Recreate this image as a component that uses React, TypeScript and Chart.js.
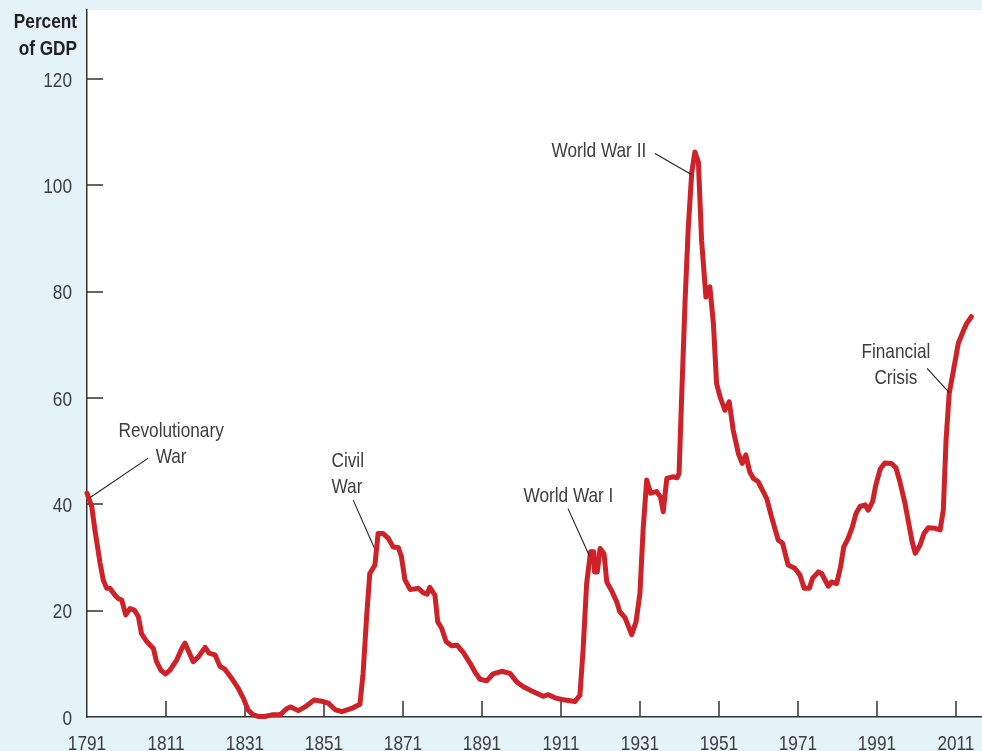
import { useEffect, useRef } from 'react';
import { Chart, registerables } from 'chart.js';

Chart.register(...registerables);

// Federal debt held by the public, percent of GDP
const years = [
  1791, 1792.2, 1793, 1794.3, 1795.1, 1796, 1796.8, 1798.1, 1798.9, 1799.8,
  1800.8, 1801.9, 1803, 1804, 1804.8, 1806.1, 1807.8, 1808.6, 1809.7, 1810.9,
  1812, 1813.7, 1815, 1815.8, 1817.9, 1819.2, 1820.9, 1821.9, 1823.4, 1824.7,
  1825.9, 1827.6, 1829.3, 1830.6, 1831.8, 1833.1, 1834.4, 1836, 1837.8, 1839.9,
  1841.6, 1842.6, 1844.5, 1846.2, 1848.5, 1850.8, 1852.1, 1853.8, 1855.5, 1858,
  1860.1, 1860.9, 1861.8, 1862.6, 1863.9, 1864.7, 1866, 1867.3, 1868.5, 1869.8,
  1870.6, 1871.5, 1872.8, 1874.9, 1876.1, 1877.1, 1877.8, 1879.1, 1879.8, 1880.8,
  1881.9, 1883.3, 1884.7, 1886.3, 1888, 1889.2, 1890.5, 1892.2, 1893.8, 1896,
  1898.1, 1899.8, 1901.5, 1903.6, 1906.5, 1907.8, 1909.5, 1911.2, 1914.5, 1915.8,
  1916.6, 1917.5, 1918.5, 1919.3, 1919.5, 1920.2, 1920.9, 1921.9, 1922.6, 1923.8,
  1925.1, 1925.9, 1927.2, 1928.9, 1930, 1931, 1931.8, 1932.7, 1933.7, 1935.2,
  1936.2, 1936.9, 1937.8, 1939.4, 1940.4, 1940.9, 1941.5, 1942.4, 1943.2, 1944.1,
  1944.9, 1945.8, 1946.6, 1947.7, 1948.7, 1949.6, 1950.4, 1951.3, 1952.5, 1953.6,
  1954.6, 1955.9, 1956.9, 1957.8, 1958.8, 1959.7, 1960.9, 1963.1, 1964.3, 1966,
  1967.1, 1968.5, 1970.2, 1971.5, 1972.6, 1973.9, 1974.7, 1976.2, 1977, 1978.7,
  1979.5, 1980.8, 1981.8, 1982.6, 1983.7, 1984.8, 1985.7, 1986.7, 1988, 1988.8,
  1989.9, 1990.7, 1991.8, 1993, 1994.7, 1995.8, 1996.8, 1998.1, 1999.2, 2000,
  2000.7, 2001.9, 2002.9, 2004, 2005.7, 2007, 2007.8, 2008.5, 2009.3, 2010.4,
  2011.6, 2012.8, 2013.7, 2014.9,
];

const debtPct = [
  42.1, 39.6, 35.2, 29, 25.8, 24.2, 24.2, 22.9, 22.3, 22,
  19.2, 20.4, 20.1, 18.9, 15.7, 14.2, 12.9, 10.4, 8.8, 8.1,
  8.8, 10.7, 12.9, 13.9, 10.4, 11.3, 13.1, 12, 11.7, 9.5,
  9, 7.3, 5.4, 3.5, 1.3, 0.4, 0.1, 0.1, 0.4, 0.4,
  1.6, 1.9, 1.2, 1.9, 3.2, 2.9, 2.6, 1.4, 1, 1.6,
  2.4, 8.2, 18.9, 27, 28.6, 34.5, 34.5, 33.6, 32, 31.9,
  30.2, 25.8, 24, 24.2, 23.4, 23.1, 24.4, 22.9, 17.9, 16.7,
  14.2, 13.4, 13.5, 12.1, 10.1, 8.5, 7.1, 6.8, 8.1, 8.6,
  8.2, 6.6, 5.7, 4.9, 3.9, 4.2, 3.6, 3.3, 2.9, 4.1,
  12.6, 25.1, 31.1, 31.1, 27.3, 27.3, 31.7, 30.7, 25.4, 23.8,
  21.7, 19.8, 18.7, 15.5, 17.9, 23.3, 35.2, 44.6, 42.1, 42.4,
  41.4, 38.6, 44.9, 45.2, 45, 45.8, 59, 77.8, 91.6, 102.3,
  106.3, 104.4, 89.7, 79, 80.9, 74, 62.7, 60.2, 57.7, 59.3,
  54, 49.6, 47.7, 49.3, 46.1, 44.9, 44.3, 41.1, 37.7, 33.3,
  32.7, 28.6, 28, 26.7, 24.2, 24.2, 26.1, 27.3, 27, 24.6,
  25.4, 25.1, 28.3, 32, 33.6, 35.8, 38.3, 39.6, 39.9, 38.9,
  40.5, 43.6, 46.6, 47.8, 47.7, 46.9, 44.3, 40.2, 35.8, 32.7,
  30.8, 32.3, 34.5, 35.6, 35.5, 35.2, 38.9, 52.1, 60.9, 65.3,
  70.3, 72.5, 74, 75.3,
];

const xTickYears = [1791, 1811, 1831, 1851, 1871, 1891, 1911, 1931, 1951, 1971, 1991, 2011];
const yTickValues = [0, 20, 40, 60, 80, 100, 120];
const yAxisTitle = ['Percent', 'of GDP'];

// Annotation labels, anchored in data units (year, percent)
const annotationLabels = [
  { lines: ['Revolutionary', 'War'], year: 1812.3, pct: 52.7, align: 'center', from: [1806.5, 48.7], to: [1791.8, 41.3] },
  { lines: ['Civil', 'War'], year: 1852.9, pct: 47.0, align: 'left', from: [1858.4, 40.8], to: [1863.7, 31.9] },
  { lines: ['World War I'], year: 1901.5, pct: 40.5, align: 'left', from: [1912.8, 39.2], to: [1918.2, 30.3] },
  { lines: ['World War II'], year: 1908.6, pct: 105.4, align: 'left', from: [1934.8, 106.0], to: [1943.9, 102.1] },
  { lines: ['Financial', 'Crisis'], year: 1995.8, pct: 67.6, align: 'center', from: [2003.7, 65.6], to: [2009.3, 61.0] },
];

const FONT = "'Liberation Sans', Arial, sans-serif";
const NARROW = 0.82;
const TEXT = '#3d3d3d';
const AXIS = '#333333';
const BG = '#e4f3f8';
const RED = '#cf2128';

function narrowText(ctx: CanvasRenderingContext2D, text: string, x: number, y: number, align: CanvasTextAlign) {
  ctx.save();
  ctx.translate(x, y);
  ctx.scale(NARROW, 1);
  ctx.textAlign = align;
  ctx.textBaseline = 'alphabetic';
  ctx.fillText(text, 0, 0);
  ctx.restore();
}

const framePlugin = {
  id: 'frame',
  beforeDraw(chart: any) {
    const { ctx, chartArea } = chart;
    ctx.save();
    ctx.fillStyle = BG;
    ctx.fillRect(0, 0, chart.width, chart.height);
    ctx.fillStyle = '#ffffff';
    ctx.fillRect(chartArea.left, chartArea.top, chartArea.right - chartArea.left, chartArea.bottom - chartArea.top);
    ctx.restore();
  },
  beforeDatasetsDraw(chart: any) {
    const { ctx, chartArea, scales } = chart;
    ctx.save();
    ctx.strokeStyle = AXIS;
    ctx.lineWidth = 1.5;
    ctx.beginPath();
    yTickValues.forEach((v) => {
      if (v === 0) return;
      const y = Math.round(scales.y.getPixelForValue(v));
      ctx.moveTo(chartArea.left, y);
      ctx.lineTo(chartArea.left + 16, y);
    });
    xTickYears.forEach((yr, i) => {
      if (i === 0) return;
      const x = Math.round(scales.x.getPixelForValue(yr));
      ctx.moveTo(x, chartArea.bottom);
      ctx.lineTo(x, chartArea.bottom - 16);
    });
    ctx.stroke();
    ctx.restore();
  },
  afterDraw(chart: any) {
    const { ctx, scales, chartArea } = chart;
    ctx.save();
    // tick labels
    ctx.fillStyle = TEXT;
    ctx.font = `21px ${FONT}`;
    yTickValues.forEach((v) => {
      narrowText(ctx, String(v), chartArea.left - 15, scales.y.getPixelForValue(v) + 7.5, 'right');
    });
    xTickYears.forEach((yr) => {
      narrowText(ctx, String(yr), scales.x.getPixelForValue(yr), chartArea.bottom + 33, 'center');
    });
    // axis title
    ctx.fillStyle = '#231f20';
    ctx.font = `bold 21px ${FONT}`;
    narrowText(ctx, yAxisTitle[0], 77, 28, 'right');
    narrowText(ctx, yAxisTitle[1], 77, 55, 'right');
    // annotations
    ctx.font = `21px ${FONT}`;
    ctx.fillStyle = TEXT;
    ctx.strokeStyle = '#222222';
    ctx.lineWidth = 1.1;
    annotationLabels.forEach((a) => {
      const x = scales.x.getPixelForValue(a.year);
      const y = scales.y.getPixelForValue(a.pct);
      a.lines.forEach((line, i) => narrowText(ctx, line, x, y + i * 26, a.align as CanvasTextAlign));
      ctx.beginPath();
      ctx.moveTo(scales.x.getPixelForValue(a.from[0]), scales.y.getPixelForValue(a.from[1]));
      ctx.lineTo(scales.x.getPixelForValue(a.to[0]), scales.y.getPixelForValue(a.to[1]));
      ctx.stroke();
    });
    ctx.restore();
  },
};

export default function App() {
  const ref = useRef<HTMLCanvasElement>(null);
  useEffect(() => {
    document.body.style.margin = '0';
    const chart = new Chart(ref.current as HTMLCanvasElement, {
      type: 'line',
      data: {
        datasets: [
          {
            data: years.map((yr, i) => ({ x: yr, y: debtPct[i] })),
            borderColor: RED,
            borderWidth: 5,
            pointRadius: 0,
            tension: 0,
            borderJoinStyle: 'round',
            borderCapStyle: 'round',
            clip: false,
          } as any,
        ],
      },
      options: {
        responsive: false,
        animation: false,
        devicePixelRatio: 1,
        layout: { padding: { top: 10, left: 0, right: 0, bottom: 0 } },
        plugins: { legend: { display: false }, tooltip: { enabled: false } },
        scales: {
          x: {
            type: 'linear',
            min: 1791,
            max: 2017.6,
            afterBuildTicks: (s: any) => {
              s.ticks = xTickYears.map((v) => ({ value: v }));
            },
            afterFit: (s: any) => {
              s.height = 34;
              s.paddingLeft = 0;
              s.paddingRight = 0;
            },
            grid: { display: false },
            border: { display: true, color: AXIS, width: 1.5 },
            ticks: { display: false },
          },
          y: {
            type: 'linear',
            min: 0,
            max: 133,
            afterBuildTicks: (s: any) => {
              s.ticks = yTickValues.map((v) => ({ value: v }));
            },
            afterFit: (s: any) => {
              s.width = 87;
              s.paddingTop = 0;
              s.paddingBottom = 0;
            },
            grid: { display: false },
            border: { display: true, color: AXIS, width: 1.5 },
            ticks: { display: false },
          },
        },
      },
      plugins: [framePlugin],
    });
    return () => chart.destroy();
  }, []);
  return (
    <div style={{ position: 'fixed', left: 0, top: 0, width: 982, height: 751 }}>
      <canvas ref={ref} width={982} height={751} style={{ display: 'block', width: 982, height: 751 }} />
    </div>
  );
}
